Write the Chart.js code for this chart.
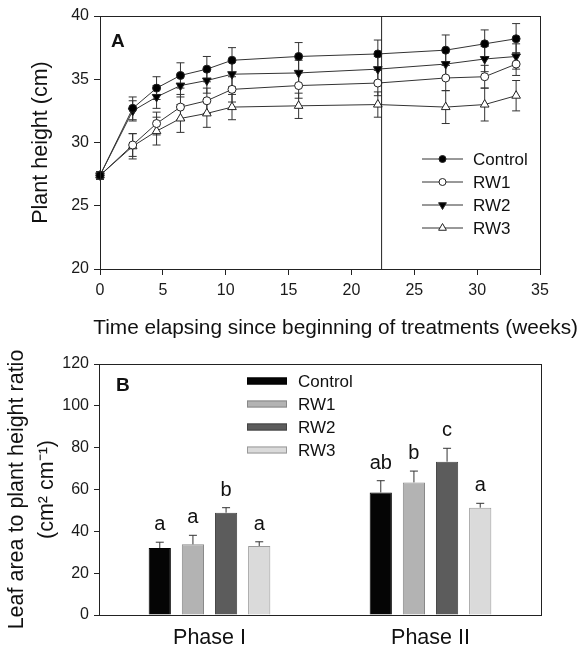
<!DOCTYPE html>
<html lang="fr">
<head>
<meta charset="utf-8">
<script src="https://cdn.jsdelivr.net/npm/chart.js@4.4.1/dist/chart.umd.min.js"></script>
<style>
  html, body { margin: 0; padding: 0; background: #fff; }
  #myChartA { position: absolute; left: 0; top: 0; }
  #myChartB { position: absolute; left: 0; top: 345px; }
</style>
</head>
<body>
<canvas id="myChartA" width="579" height="345"></canvas>
<canvas id="myChartB" width="579" height="306"></canvas>
<script>
//? Données graphique A : hauteur des plantes (cm).

const semaines = [0, 2.6, 4.5, 6.4, 8.5, 10.5, 15.8, 22.1, 27.5, 30.6, 33.1];
const hauteurControl = [27.4, 32.7, 34.3, 35.3, 35.8, 36.5, 36.8, 37.0, 37.3, 37.8, 38.2];
const hauteurRW1 = [27.4, 29.8, 31.5, 32.8, 33.3, 34.2, 34.5, 34.7, 35.1, 35.2, 36.2];
const hauteurRW2 = [27.4, 32.5, 33.6, 34.5, 34.9, 35.4, 35.5, 35.8, 36.2, 36.6, 36.8];
const hauteurRW3 = [27.4, 29.7, 30.9, 31.9, 32.3, 32.8, 32.9, 33.0, 32.8, 33.0, 33.7];
const erreurControl = [0.3, 0.9, 0.9, 1.0, 1.0, 1.0, 1.1, 1.1, 1.2, 1.1, 1.2];
const erreurRW1 = [0.3, 0.9, 0.9, 1.0, 1.0, 1.0, 1.0, 1.0, 1.0, 0.9, 0.9];
const erreurRW2 = [0.3, 0.8, 0.9, 0.9, 1.0, 1.0, 1.0, 1.0, 1.1, 1.0, 1.0];
const erreurRW3 = [0.3, 1.0, 1.1, 1.1, 1.1, 1.0, 1.0, 1.0, 1.3, 1.3, 1.2];
const semaineFinPhaseI = 22.4;

//? Données graphique B : surface foliaire / hauteur.

const phases = ["Phase I", "Phase II"];
const ratioControl = [32.0, 58.6];
const ratioRW1 = [33.8, 63.4];
const ratioRW2 = [48.9, 73.3];
const ratioRW3 = [33.0, 51.3];
const erreurRatioControl = [2.8, 5.6];
const erreurRatioRW1 = [4.3, 5.4];
const erreurRatioRW2 = [2.4, 6.4];
const erreurRatioRW3 = [2.0, 2.1];
const lettresControl = ["a", "ab"];
const lettresRW1 = ["a", "b"];
const lettresRW2 = ["b", "c"];
const lettresRW3 = ["a", "a"];

//? -------------------------------------------------

const police = "'Liberation Sans', Arial, sans-serif";
Chart.defaults.font.family = police;
Chart.defaults.color = "#1a1a1a";

const axeNoir = (tickLength) => ({
  grid: { drawOnChartArea: false, tickLength: tickLength, color: "#222", lineWidth: 1 },
  border: { color: "#222", width: 1 },
});

//? Plugin : cadre du graphique.

const cadrePlugin = {
  id: "cadre",
  afterDraw: (chart) => {
    const { ctx, chartArea } = chart;
    ctx.save();
    ctx.strokeStyle = "#222";
    ctx.lineWidth = 1;
    ctx.strokeRect(chartArea.left + 0.5, chartArea.top + 0.5, chartArea.width, chartArea.height);
    ctx.restore();
  },
};

//? -------------------------------------------------

//? Construction du graphique A.

const construireGraphiqueA = () => {
  try {
    const ctxA = document.getElementById("myChartA").getContext("2d");

    const series = [
      { label: "Control", valeurs: hauteurControl, erreurs: erreurControl, style: "circle", fond: "#000", rot: 0, rayon: 4 },
      { label: "RW1", valeurs: hauteurRW1, erreurs: erreurRW1, style: "circle", fond: "#fff", rot: 0, rayon: 4 },
      { label: "RW2", valeurs: hauteurRW2, erreurs: erreurRW2, style: "triangle", fond: "#000", rot: 180, rayon: 5 },
      { label: "RW3", valeurs: hauteurRW3, erreurs: erreurRW3, style: "triangle", fond: "#fff", rot: 0, rayon: 5 },
    ];

    const datasets = series.map((s) => ({
      label: s.label,
      data: semaines.map((x, i) => ({ x: x, y: s.valeurs[i] })),
      erreurs: s.erreurs,
      borderColor: "#333",
      borderWidth: 1,
      pointStyle: s.style,
      pointRotation: s.rot,
      pointRadius: s.rayon,
      pointBackgroundColor: s.fond,
      pointBorderColor: "#222",
      pointBorderWidth: 1,
      tension: 0,
      clip: false,
    }));

    // barres d'erreur (haut et bas)
    const erreursPlugin = {
      id: "erreursA",
      beforeDatasetsDraw: (chart) => {
        const { ctx, scales } = chart;
        ctx.save();
        ctx.strokeStyle = "#333";
        ctx.lineWidth = 1;
        chart.data.datasets.forEach((ds, i) => {
          chart.getDatasetMeta(i).data.forEach((pt, j) => {
            const v = ds.data[j].y;
            const e = ds.erreurs[j];
            const yH = scales.y.getPixelForValue(v + e);
            const yB = scales.y.getPixelForValue(v - e);
            ctx.beginPath();
            ctx.moveTo(pt.x, yH); ctx.lineTo(pt.x, yB);
            ctx.moveTo(pt.x - 4, yH); ctx.lineTo(pt.x + 4, yH);
            ctx.moveTo(pt.x - 4, yB); ctx.lineTo(pt.x + 4, yB);
            ctx.stroke();
          });
        });
        ctx.restore();
      },
    };

    // ligne verticale fin phase I, lettre A, titre X et légende
    const decorPlugin = {
      id: "decorA",
      afterDraw: (chart) => {
        const { ctx, chartArea, scales } = chart;
        ctx.save();
        const xP = scales.x.getPixelForValue(semaineFinPhaseI);
        ctx.strokeStyle = "#222";
        ctx.lineWidth = 1;
        ctx.beginPath();
        ctx.moveTo(xP, chartArea.top); ctx.lineTo(xP, chartArea.bottom);
        ctx.stroke();

        ctx.fillStyle = "#111";
        ctx.font = "bold 19px " + police;
        ctx.textBaseline = "middle";
        ctx.fillText("A", chartArea.left + 11, chartArea.top + 26);

        // titre de l'axe X (déborde à droite du cadre comme l'original)
        ctx.font = "20.8px " + police;
        ctx.textAlign = "right";
        ctx.fillText("Time elapsing since beginning of treatments (weeks)", chart.width - 1, chartArea.bottom + 59);
        ctx.textAlign = "left";

        ctx.font = "17px " + police;
        series.forEach((s, i) => {
          const y = chartArea.top + 143 + i * 23;
          const x1 = chartArea.right - 118;
          const x2 = chartArea.right - 77;
          ctx.strokeStyle = "#333";
          ctx.beginPath();
          ctx.moveTo(x1, y); ctx.lineTo(x2, y);
          ctx.stroke();
          ctx.fillStyle = s.fond;
          ctx.strokeStyle = "#222";
          Chart.helpers.drawPoint(ctx, { pointStyle: s.style, rotation: s.rot, radius: s.rayon - 0.5, borderWidth: 1 }, (x1 + x2) / 2, y);
          ctx.fillStyle = "#111";
          ctx.fillText(s.label, chartArea.right - 67, y + 1);
        });
        ctx.restore();
      },
    };

    new Chart(ctxA, {
      type: "line",
      data: { datasets },
      options: {
        responsive: false,
        animation: { duration: 0 },
        layout: { padding: { left: 24, right: 39, top: 16, bottom: 3 } },
        plugins: { legend: { display: false }, tooltip: { enabled: false } },
        scales: {
          x: {
            type: "linear",
            min: 0,
            max: 35,
            ...axeNoir(6),
            ticks: { stepSize: 5, padding: 6, font: { size: 16 } },
            afterFit: (scale) => { scale.height = 73; },
          },
          y: {
            min: 20,
            max: 40,
            ...axeNoir(6),
            ticks: { stepSize: 5, padding: 5, font: { size: 16 } },
            title: { display: true, text: "Plant height (cm)", font: { size: 21.5 }, color: "#111" },
            afterFit: (scale) => { scale.width = 76; },
          },
        },
      },
      plugins: [erreursPlugin, decorPlugin, cadrePlugin],
    });
  } catch (error) {
    console.error("🔴 ERROR | Construction graphique A :", error);
  }
};

//? -------------------------------------------------

//? Construction du graphique B.

const construireGraphiqueB = () => {
  try {
    const ctxB = document.getElementById("myChartB").getContext("2d");

    const series = [
      { label: "Control", valeurs: ratioControl, erreurs: erreurRatioControl, lettres: lettresControl, fond: "#050505", bord: "#000" },
      { label: "RW1", valeurs: ratioRW1, erreurs: erreurRatioRW1, lettres: lettresRW1, fond: "#b3b3b3", bord: "#888" },
      { label: "RW2", valeurs: ratioRW2, erreurs: erreurRatioRW2, lettres: lettresRW2, fond: "#5c5c5c", bord: "#444" },
      { label: "RW3", valeurs: ratioRW3, erreurs: erreurRatioRW3, lettres: lettresRW3, fond: "#dadada", bord: "#999" },
    ];

    const datasets = series.map((s) => ({
      label: s.label,
      data: s.valeurs,
      erreurs: s.erreurs,
      lettres: s.lettres,
      backgroundColor: s.fond,
      borderColor: s.bord,
      borderWidth: 1,
      categoryPercentage: 0.6,
      barPercentage: 0.67,
    }));

    // barres d'erreur vers le haut + lettres de significativité
    const erreursPlugin = {
      id: "erreursB",
      afterDatasetsDraw: (chart) => {
        const { ctx, scales } = chart;
        ctx.save();
        ctx.strokeStyle = "#333";
        ctx.lineWidth = 1;
        ctx.fillStyle = "#111";
        ctx.font = "20px " + police;
        ctx.textAlign = "center";
        ctx.textBaseline = "alphabetic";
        chart.data.datasets.forEach((ds, i) => {
          chart.getDatasetMeta(i).data.forEach((bar, j) => {
            const yH = scales.y.getPixelForValue(ds.data[j] + ds.erreurs[j]);
            ctx.beginPath();
            ctx.moveTo(bar.x, bar.y); ctx.lineTo(bar.x, yH);
            ctx.moveTo(bar.x - 4, yH); ctx.lineTo(bar.x + 4, yH);
            ctx.stroke();
            ctx.fillText(ds.lettres[j], bar.x, yH - 12);
          });
        });
        ctx.restore();
      },
    };

    const decorPlugin = {
      id: "decorB",
      afterDraw: (chart) => {
        const { ctx, chartArea } = chart;
        ctx.save();
        ctx.fillStyle = "#111";
        ctx.font = "bold 19px " + police;
        ctx.textBaseline = "middle";
        ctx.fillText("B", chartArea.left + 17, chartArea.top + 22);

        ctx.font = "17px " + police;
        series.forEach((s, i) => {
          const y = chartArea.top + 17 + i * 23;
          ctx.fillStyle = s.fond;
          ctx.strokeStyle = s.bord;
          ctx.fillRect(chartArea.left + 148, y - 3.5, 40, 7);
          ctx.strokeRect(chartArea.left + 148.5, y - 3, 39, 6);
          ctx.fillStyle = "#111";
          ctx.fillText(s.label, chartArea.left + 199, y + 1);
        });
        ctx.restore();
      },
    };

    new Chart(ctxB, {
      type: "bar",
      data: { labels: phases, datasets },
      options: {
        responsive: false,
        animation: { duration: 0 },
        layout: { padding: { left: 0, right: 38, top: 19, bottom: 0 } },
        plugins: { legend: { display: false }, tooltip: { enabled: false } },
        scales: {
          x: {
            grid: { display: false, drawTicks: false },
            border: { color: "#222", width: 1 },
            ticks: { padding: 10, font: { size: 21.5 }, color: "#111" },
            afterFit: (scale) => { scale.height = 36; },
          },
          y: {
            min: 0,
            max: 120,
            ...axeNoir(5),
            ticks: { stepSize: 20, padding: 5, font: { size: 16 } },
            title: {
              display: true,
              text: ["Leaf area to plant height ratio", "(cm² cm⁻¹)"],
              font: { size: 21.5, lineHeight: 1.4 },
              padding: { top: 2, bottom: 2 },
              color: "#111",
            },
            afterFit: (scale) => { scale.width = 99; },
          },
        },
      },
      plugins: [erreursPlugin, decorPlugin, cadrePlugin],
    });
  } catch (error) {
    console.error("🔴 ERROR | Construction graphique B :", error);
  }
};

//? -------------------------------------------------

(function lancerGraphiques() {
  construireGraphiqueA();
  construireGraphiqueB();
})();
</script>
</body>
</html>
